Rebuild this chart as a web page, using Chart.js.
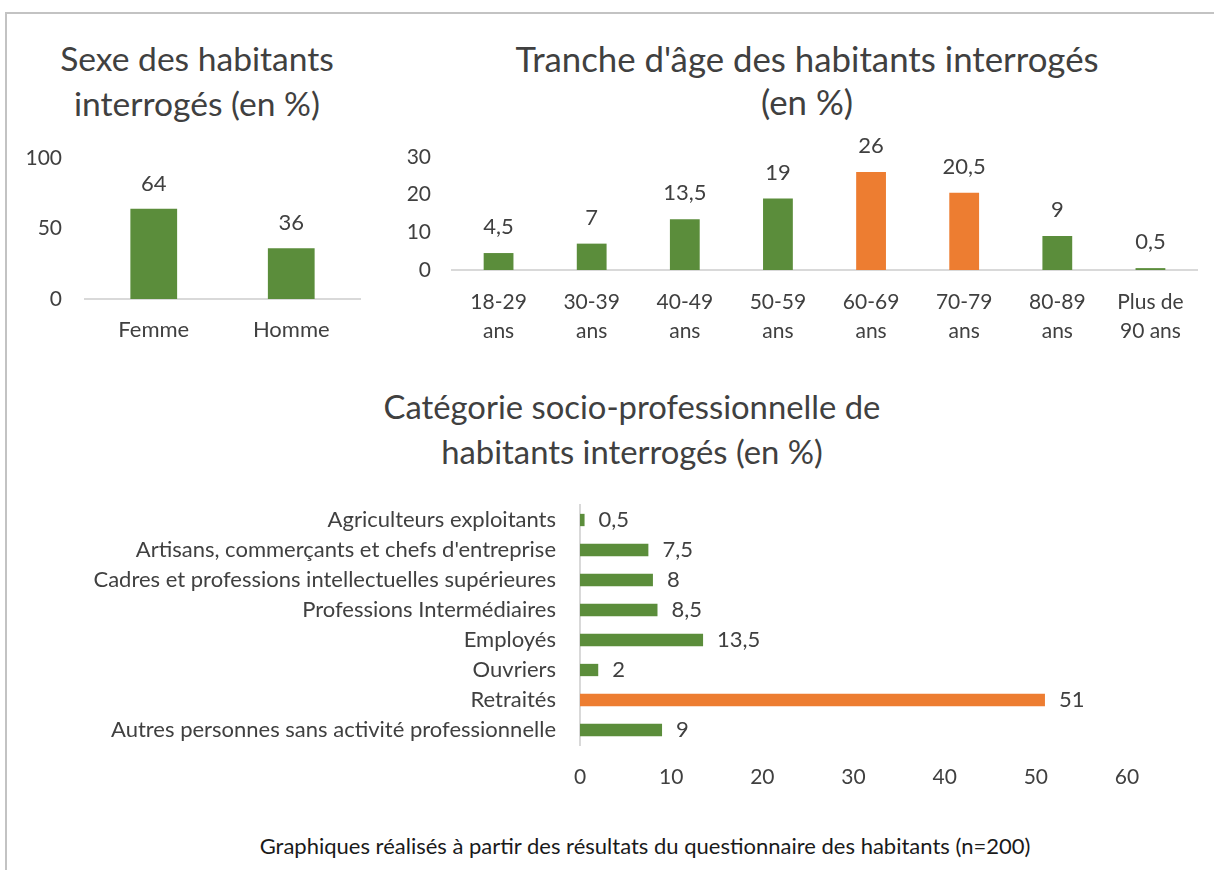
<!DOCTYPE html>
<html lang="fr">
<head>
<meta charset="utf-8">
<title>Profil des habitants interrogés</title>
<script src="https://cdn.jsdelivr.net/npm/chart.js@4.4.1/dist/chart.umd.min.js"></script>
<style>
    html, body { margin: 0; padding: 0; background: #fff; }
    body { width: 1214px; height: 870px; position: relative; overflow: hidden; font-family: Lato, sans-serif; color: #404040; }
    #cadre { position: absolute; left: 5px; top: 12px; right: -4px; bottom: -4px;
             border-top: 2px solid #c3c3c3; border-left: 2px solid #c3c3c3; }
    canvas { position: absolute; }
    #grSexe { left: 8px; top: 0; }
    #grAge { left: 400px; top: 0; }
    #grCsp { left: 50px; top: 340px; }
    .titre { position: absolute; text-align: center; line-height: 45px; white-space: nowrap; }
    #titreSexe { left: 0; width: 394px; top: 36px; font-size: 33.6px; }
    #titreAge { left: 400px; width: 814px; top: 37px; font-size: 34.8px; line-height: 43px; }
    #titreCsp { left: 50px; width: 1164px; top: 384px; font-size: 32.8px; }
    #source { position: absolute; left: 0; top: 832px; width: 1290px; text-align: center;
              font-size: 22px; color: #1a1a1a; }
</style>
</head>
<body>
<div id="cadre"></div>
<div class="titre" id="titreSexe"></div>
<div class="titre" id="titreAge"></div>
<div class="titre" id="titreCsp"></div>
<canvas id="grSexe" width="380" height="360"></canvas>
<canvas id="grAge" width="814" height="360"></canvas>
<canvas id="grCsp" width="1164" height="460"></canvas>
<div id="source">Graphiques réalisés à partir des résultats du questionnaire des habitants (n=200)</div>

<script>
// Données

// Sexe des habitants interrogés
const sexeTitre = ['Sexe des habitants', 'interrogés (en %)'];
const sexeCategories = ['Femme', 'Homme'];
const sexeValeurs = [64, 36];
const sexeTicks = [0, 50, 100];

// Tranche d'âge
const ageTitre = ["Tranche d'âge des habitants interrogés", '(en %)'];
const ageCategories = [
    ['18-29', 'ans'], ['30-39', 'ans'], ['40-49', 'ans'], ['50-59', 'ans'],
    ['60-69', 'ans'], ['70-79', 'ans'], ['80-89', 'ans'], ['Plus de', '90 ans']
];
const ageValeurs = [4.5, 7, 13.5, 19, 26, 20.5, 9, 0.5];
const ageTicks = [0, 10, 20, 30];
const ageEnAvant = [4, 5]; // tranches mises en évidence (orange)

// Catégorie socio-professionnelle
const cspTitre = ['Catégorie socio-professionnelle de', 'habitants interrogés (en %)'];
const cspCategories = [
    'Agriculteurs exploitants',
    "Artisans, commerçants et chefs d'entreprise",
    'Cadres et professions intellectuelles supérieures',
    'Professions Intermédiaires',
    'Employés',
    'Ouvriers',
    'Retraités',
    'Autres personnes sans activité professionnelle'
];
const cspValeurs = [0.5, 7.5, 8, 8.5, 13.5, 2, 51, 9];
const cspTicks = [0, 10, 20, 30, 40, 50, 60];
const cspEnAvant = [6];

// Apparence
const couleurs = {
    vert: '#5b8d3b',
    orange: '#ed7d31',
    texte: '#404040',
    axe: '#d9d9d9'
};
const police = 'Lato, "Open Sans", sans-serif';

Chart.defaults.font.family = police;
Chart.defaults.color = couleurs.texte;
Chart.defaults.animation = false;
Chart.defaults.responsive = false;

function formater(v) {
    return String(v).replace('.', ',');
}

function couleursBarres(n, enAvant) {
    const liste = [];
    for (let i = 0; i < n; i++) liste.push(enAvant.includes(i) ? couleurs.orange : couleurs.vert);
    return liste;
}

// Titres en HTML (centrés comme dans Excel, indépendamment de l'axe)
function ecrireTitre(id, lignes) {
    const div = document.getElementById(id);
    lignes.forEach((l, i) => {
        if (i > 0) div.appendChild(document.createElement('br'));
        div.appendChild(document.createTextNode(l));
    });
}

// Étiquettes de valeurs au bout des barres
const etiquettesValeurs = {
    id: 'etiquettesValeurs',
    afterDatasetsDraw(chart, args, opts) {
        const ctx = chart.ctx;
        const horizontal = chart.options.indexAxis === 'y';
        const valeurs = chart.data.datasets[0].data;
        ctx.save();
        ctx.font = opts.taille + 'px ' + police;
        ctx.fillStyle = couleurs.texte;
        ctx.textBaseline = 'middle';
        chart.getDatasetMeta(0).data.forEach((barre, i) => {
            const texte = formater(valeurs[i]);
            if (horizontal) {
                ctx.textAlign = 'left';
                ctx.fillText(texte, barre.x + opts.ecart, barre.y);
            } else {
                ctx.textAlign = 'center';
                ctx.fillText(texte, barre.x, barre.y - opts.ecart);
            }
        });
        ctx.restore();
    }
};

function ticksFixes(valeurs) {
    return function (axe) {
        axe.ticks = valeurs.map(v => ({ value: v }));
    };
}

// Graphique 1 : sexe
function creerSexe() {
    return new Chart(document.getElementById('grSexe'), {
        type: 'bar',
        data: {
            labels: sexeCategories,
            datasets: [{
                data: sexeValeurs,
                backgroundColor: couleurs.vert,
                categoryPercentage: 1,
                barPercentage: 0.34
            }]
        },
        options: {
            layout: { padding: { left: 0, right: 28, top: 158, bottom: 11 } },
            plugins: {
                legend: { display: false },
                tooltip: { enabled: false },
                title: { display: false },
                etiquettesValeurs: { taille: 22, ecart: 25 }
            },
            scales: {
                x: {
                    grid: { display: false, drawTicks: false },
                    border: { display: true, color: couleurs.axe, width: 2 },
                    ticks: { font: { size: 22 }, padding: 18 },
                    afterFit(axe) { axe.height = 50; }
                },
                y: {
                    min: 0, max: 100,
                    grid: { display: false, drawTicks: false },
                    border: { display: false },
                    ticks: { font: { size: 21 }, padding: 23 },
                    afterBuildTicks: ticksFixes(sexeTicks),
                    afterFit(axe) { axe.width = 77; }
                }
            }
        },
        plugins: [etiquettesValeurs]
    });
}

// Graphique 2 : tranches d'âge
function creerAge() {
    return new Chart(document.getElementById('grAge'), {
        type: 'bar',
        data: {
            labels: ageCategories,
            datasets: [{
                data: ageValeurs,
                backgroundColor: couleursBarres(ageValeurs.length, ageEnAvant),
                categoryPercentage: 1,
                barPercentage: 0.32
            }]
        },
        options: {
            layout: { padding: { left: 0, right: 17, top: 157, bottom: 10 } },
            plugins: {
                legend: { display: false },
                tooltip: { enabled: false },
                title: { display: false },
                etiquettesValeurs: { taille: 22, ecart: 26 }
            },
            scales: {
                x: {
                    grid: { display: false, drawTicks: false },
                    border: { display: true, color: couleurs.axe, width: 2 },
                    ticks: { font: { size: 21, lineHeight: 1.38 }, padding: 18, maxRotation: 0, autoSkip: false },
                    afterFit(axe) { axe.height = 80; }
                },
                y: {
                    min: 0, max: 30,
                    grid: { display: false, drawTicks: false },
                    border: { display: false },
                    ticks: { font: { size: 21 }, padding: 21 },
                    afterBuildTicks: ticksFixes(ageTicks),
                    afterFit(axe) { axe.width = 52; }
                }
            }
        },
        plugins: [etiquettesValeurs]
    });
}

// Graphique 3 : catégorie socio-professionnelle
function creerCsp() {
    return new Chart(document.getElementById('grCsp'), {
        type: 'bar',
        data: {
            labels: cspCategories,
            datasets: [{
                data: cspValeurs,
                backgroundColor: couleursBarres(cspValeurs.length, cspEnAvant),
                categoryPercentage: 1,
                barPercentage: 0.41
            }]
        },
        options: {
            indexAxis: 'y',
            layout: { padding: { left: 0, right: 87, top: 165, bottom: 10 } },
            plugins: {
                legend: { display: false },
                tooltip: { enabled: false },
                title: { display: false },
                etiquettesValeurs: { taille: 22, ecart: 14 }
            },
            scales: {
                x: {
                    min: 0, max: 60,
                    grid: { display: false, drawTicks: false },
                    border: { display: false },
                    ticks: { font: { size: 21 }, padding: 20 },
                    afterBuildTicks: ticksFixes(cspTicks),
                    afterFit(axe) { axe.height = 45; }
                },
                y: {
                    grid: { display: false, drawTicks: false },
                    border: { display: true, color: couleurs.axe, width: 2 },
                    ticks: { font: { size: 22 }, padding: 24, autoSkip: false },
                    afterFit(axe) { axe.width = 530; }
                }
            }
        },
        plugins: [etiquettesValeurs]
    });
}

ecrireTitre('titreSexe', sexeTitre);
ecrireTitre('titreAge', ageTitre);
ecrireTitre('titreCsp', cspTitre);
creerSexe();
creerAge();
creerCsp();
</script>
</body>
</html>
